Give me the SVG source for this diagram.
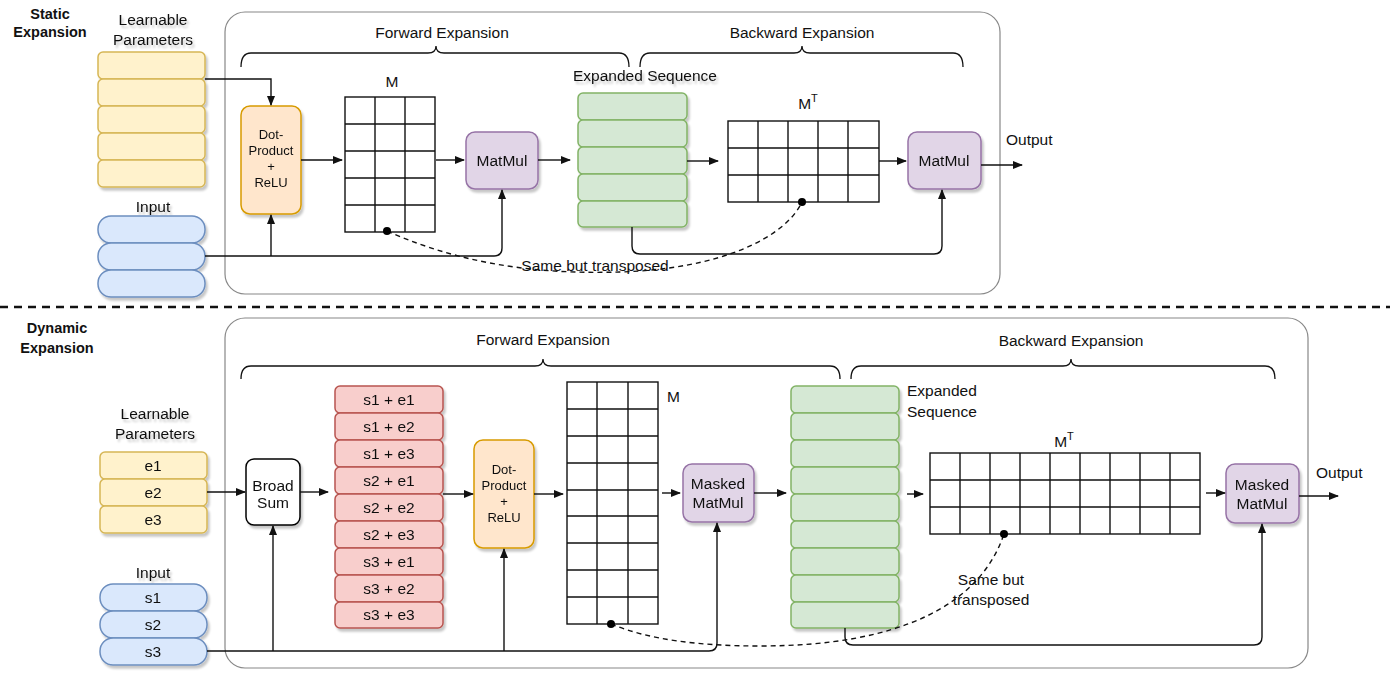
<svg xmlns="http://www.w3.org/2000/svg" width="1390" height="675" viewBox="0 0 1390 675">
<defs>
<style>
text{font-family:"Liberation Sans",Arial,sans-serif;font-size:15.5px;fill:#111;}
.b{font-weight:bold;font-size:14.5px;}
.m{text-anchor:middle;}
.sm{font-size:13px;}
.yel{fill:#fff2cc;stroke:#d6b656;stroke-width:1.5;}
.blu{fill:#dae8fc;stroke:#6c8ebf;stroke-width:1.5;}
.grn{fill:#d5e8d4;stroke:#82b366;stroke-width:1.5;}
.red{fill:#f8cecc;stroke:#b85450;stroke-width:1.5;}
.org{fill:#ffe6cc;stroke:#d79b00;stroke-width:1.5;}
.pur{fill:#e1d5e7;stroke:#9673a6;stroke-width:1.5;}
.wht{fill:#fff;stroke:#000;stroke-width:1.5;}
.grid{fill:#fff;stroke:#111;stroke-width:1.4;}
.cont{fill:none;stroke:#888;stroke-width:1.2;}
.brace{fill:none;stroke:#111;stroke-width:1.3;}
.ln{fill:none;stroke:#111;stroke-width:1.4;}
.arr{fill:none;stroke:#111;stroke-width:1.4;marker-end:url(#ah);}
.dash{fill:none;stroke:#111;stroke-width:1.4;stroke-dasharray:5 4;}
</style>
<marker id="ah" viewBox="0 0 10 10" refX="9" refY="5" markerWidth="10" markerHeight="10" markerUnits="userSpaceOnUse" orient="auto">
<path d="M0,1 L10,5 L0,9 Z" fill="#111"/>
</marker>
<filter id="sh" x="-20%" y="-20%" width="140%" height="140%">
<feDropShadow dx="2" dy="3" stdDeviation="1.2" flood-color="#000" flood-opacity="0.22"/>
</filter>
</defs>
<rect width="1390" height="675" fill="#fff"/>

<!-- ===== STATIC ===== -->
<g id="static-title"><text class="b m" x="50" y="19">Static</text><text class="b m" x="50" y="37">Expansion</text></g>
<g id="static-container"><rect class="cont" x="225" y="12" width="775" height="282" rx="20"/></g>
<g id="static-fwd-brace"><path class="brace" d="M241,67 Q241,53 251,53 H428 Q436,53 436,46 Q436,53 444,53 H619 Q629,53 629,67"/><text class="m" x="442" y="38">Forward Expansion</text></g>
<g id="static-bwd-brace"><path class="brace" d="M640,67 Q640,53 650,53 H794 Q802,53 802,46 Q802,53 810,53 H953 Q963,53 963,67"/><text class="m" x="802" y="38">Backward Expansion</text></g>

<g id="static-params" filter="url(#sh)">
<text class="m" x="153" y="25">Learnable</text><text class="m" x="153" y="45">Parameters</text>
<rect class="yel" x="98" y="52" width="107" height="27" rx="5"/>
<rect class="yel" x="98" y="79" width="107" height="27" rx="5"/>
<rect class="yel" x="98" y="106" width="107" height="27" rx="5"/>
<rect class="yel" x="98" y="133" width="107" height="27" rx="5"/>
<rect class="yel" x="98" y="160" width="107" height="27" rx="5"/>
</g>
<g id="static-input" filter="url(#sh)">
<text class="m" x="153" y="212">Input</text>
<rect class="blu" x="98" y="216" width="107" height="27" rx="13"/>
<rect class="blu" x="98" y="243" width="107" height="27" rx="13"/>
<rect class="blu" x="98" y="270" width="107" height="27" rx="13"/>
</g>
<g id="static-dot" filter="url(#sh)">
<rect class="org" x="241" y="106" width="60" height="108" rx="9"/>
<text class="m sm" x="271" y="139">Dot-</text><text class="m sm" x="271" y="155">Product</text><text class="m sm" x="271" y="171">+</text><text class="m sm" x="271" y="187">ReLU</text>
</g>
<g id="static-M">
<text class="m" x="392" y="87">M</text>
<rect class="grid" x="345" y="97" width="90" height="135"/>
<path class="grid" d="M375,97V232M405,97V232M345,124H435M345,151H435M345,178H435M345,205H435"/>
</g>
<g id="static-matmul1" filter="url(#sh)"><rect class="pur" x="466" y="132" width="72" height="57" rx="9"/><text class="m" x="502" y="166">MatMul</text></g>
<g id="static-expanded" filter="url(#sh)">
<text class="m" x="645" y="81">Expanded Sequence</text>
<rect class="grn" x="578" y="93" width="109" height="27" rx="5"/>
<rect class="grn" x="578" y="120" width="109" height="27" rx="5"/>
<rect class="grn" x="578" y="147" width="109" height="27" rx="5"/>
<rect class="grn" x="578" y="174" width="109" height="27" rx="5"/>
<rect class="grn" x="578" y="201" width="109" height="26" rx="5"/>
</g>
<g id="static-MT">
<text class="m" x="808" y="109">M<tspan font-size="11" dy="-7">T</tspan></text>
<rect class="grid" x="728" y="121" width="151" height="81"/>
<path class="grid" d="M758,121V202M788,121V202M818,121V202M848,121V202M728,148H879M728,175H879"/>
</g>
<g id="static-matmul2" filter="url(#sh)"><rect class="pur" x="908" y="132" width="73" height="57" rx="9"/><text class="m" x="944" y="166">MatMul</text></g>
<g id="static-output"><text x="1006" y="145">Output</text></g>
<g id="static-note"><text class="m" x="595" y="271">Same but transposed</text></g>

<g id="static-connectors">
<path class="arr" d="M205,79H271V105"/>
<path class="arr" d="M205,256H494Q502,256 502,248V190"/>
<path class="arr" d="M271,256V215"/>
<path class="arr" d="M301,160H342"/>
<path class="arr" d="M436,160H464"/>
<path class="arr" d="M538,160H570"/>
<path class="arr" d="M687,161H718"/>
<path class="arr" d="M879,161H906"/>
<path class="arr" d="M981,165H1022"/>
<path class="arr" d="M632,227V246Q632,254 640,254H934Q942,254 942,246V190"/>
<path class="dash" d="M387,231C470,268 550,274 620,272C720,269 785,238 802,202"/>
<circle cx="387" cy="231" r="4" fill="#000"/>
<circle cx="802" cy="202" r="4" fill="#000"/>
</g>

<g id="separator"><line x1="0" y1="307" x2="1390" y2="307" stroke="#111" stroke-width="2.5" stroke-dasharray="8 6"/></g>

<!-- ===== DYNAMIC ===== -->
<g id="dyn-title"><text class="b m" x="57" y="333">Dynamic</text><text class="b m" x="57" y="353">Expansion</text></g>
<g id="dyn-container"><rect class="cont" x="225" y="318" width="1083" height="350" rx="20"/></g>
<g id="dyn-fwd-brace"><path class="brace" d="M241,379 Q241,366 251,366 H535 Q543,366 543,359 Q543,366 551,366 H830 Q840,366 840,379"/><text class="m" x="543" y="345">Forward Expansion</text></g>
<g id="dyn-bwd-brace"><path class="brace" d="M851,379 Q851,366 861,366 H1063 Q1071,366 1071,359 Q1071,366 1079,366 H1265 Q1275,366 1275,379"/><text class="m" x="1071" y="346">Backward Expansion</text></g>

<g id="dyn-params" filter="url(#sh)">
<text class="m" x="155" y="419">Learnable</text><text class="m" x="155" y="439">Parameters</text>
<rect class="yel" x="100" y="452" width="107" height="27" rx="5"/>
<rect class="yel" x="100" y="479" width="107" height="27" rx="5"/>
<rect class="yel" x="100" y="506" width="107" height="27" rx="5"/>
<text class="m" x="153" y="471">e1</text><text class="m" x="153" y="498">e2</text><text class="m" x="153" y="525">e3</text>
</g>
<g id="dyn-input" filter="url(#sh)">
<text class="m" x="153" y="578">Input</text>
<rect class="blu" x="100" y="584" width="107" height="27" rx="13"/>
<rect class="blu" x="100" y="611" width="107" height="27" rx="13"/>
<rect class="blu" x="100" y="638" width="107" height="27" rx="13"/>
<text class="m" x="153" y="603">s1</text><text class="m" x="153" y="630">s2</text><text class="m" x="153" y="657">s3</text>
</g>
<g id="dyn-broadsum" filter="url(#sh)"><rect class="wht" x="246" y="459" width="54" height="66" rx="8"/><text class="m" x="273" y="491">Broad</text><text class="m" x="273" y="508">Sum</text></g>
<g id="dyn-sums" filter="url(#sh)">
<rect class="red" x="335" y="386" width="108" height="27" rx="5"/>
<rect class="red" x="335" y="413" width="108" height="27" rx="5"/>
<rect class="red" x="335" y="440" width="108" height="27" rx="5"/>
<rect class="red" x="335" y="467" width="108" height="27" rx="5"/>
<rect class="red" x="335" y="494" width="108" height="27" rx="5"/>
<rect class="red" x="335" y="521" width="108" height="27" rx="5"/>
<rect class="red" x="335" y="548" width="108" height="27" rx="5"/>
<rect class="red" x="335" y="575" width="108" height="27" rx="5"/>
<rect class="red" x="335" y="602" width="108" height="26" rx="5"/>
<text class="m" x="389" y="405">s1 + e1</text>
<text class="m" x="389" y="432">s1 + e2</text>
<text class="m" x="389" y="459">s1 + e3</text>
<text class="m" x="389" y="486">s2 + e1</text>
<text class="m" x="389" y="513">s2 + e2</text>
<text class="m" x="389" y="540">s2 + e3</text>
<text class="m" x="389" y="567">s3 + e1</text>
<text class="m" x="389" y="594">s3 + e2</text>
<text class="m" x="389" y="620">s3 + e3</text>
</g>
<g id="dyn-dot" filter="url(#sh)">
<rect class="org" x="474" y="440" width="60" height="108" rx="9"/>
<text class="m sm" x="504" y="474">Dot-</text><text class="m sm" x="504" y="490">Product</text><text class="m sm" x="504" y="506">+</text><text class="m sm" x="504" y="522">ReLU</text>
</g>
<g id="dyn-M">
<text x="667" y="402">M</text>
<rect class="grid" x="567" y="382" width="91" height="242"/>
<path class="grid" d="M597,382V624M628,382V624M567,409H658M567,436H658M567,463H658M567,490H658M567,516H658M567,543H658M567,570H658M567,597H658"/>
</g>
<g id="dyn-masked1" filter="url(#sh)"><rect class="pur" x="683" y="464" width="71" height="58" rx="9"/><text class="m" x="718" y="489">Masked</text><text class="m" x="718" y="508">MatMul</text></g>
<g id="dyn-expanded" filter="url(#sh)">
<rect class="grn" x="791" y="386" width="108" height="27" rx="5"/>
<rect class="grn" x="791" y="413" width="108" height="27" rx="5"/>
<rect class="grn" x="791" y="440" width="108" height="27" rx="5"/>
<rect class="grn" x="791" y="467" width="108" height="27" rx="5"/>
<rect class="grn" x="791" y="494" width="108" height="27" rx="5"/>
<rect class="grn" x="791" y="521" width="108" height="27" rx="5"/>
<rect class="grn" x="791" y="548" width="108" height="27" rx="5"/>
<rect class="grn" x="791" y="575" width="108" height="27" rx="5"/>
<rect class="grn" x="791" y="602" width="108" height="26" rx="5"/>
</g>
<g id="dyn-expanded-label"><text x="907" y="396">Expanded</text><text x="907" y="417">Sequence</text></g>
<g id="dyn-MT">
<text class="m" x="1064" y="447">M<tspan font-size="11" dy="-7">T</tspan></text>
<rect class="grid" x="930" y="453" width="270" height="81"/>
<path class="grid" d="M960,453V534M990,453V534M1020,453V534M1050,453V534M1080,453V534M1110,453V534M1140,453V534M1170,453V534M930,480H1200M930,507H1200"/>
</g>
<g id="dyn-masked2" filter="url(#sh)"><rect class="pur" x="1226" y="464" width="73" height="59" rx="9"/><text class="m" x="1262" y="490">Masked</text><text class="m" x="1262" y="509">MatMul</text></g>
<g id="dyn-output"><text x="1316" y="478">Output</text></g>
<g id="dyn-note"><text class="m" x="991" y="585">Same but</text><text class="m" x="991" y="605">transposed</text></g>

<g id="dyn-connectors">
<path class="arr" d="M207,492H245"/>
<path class="arr" d="M300,492H328"/>
<path class="arr" d="M443,494H473"/>
<path class="arr" d="M534,494H563"/>
<path class="arr" d="M662,493H680"/>
<path class="arr" d="M754,493H786"/>
<path class="arr" d="M907,494H923"/>
<path class="arr" d="M1206,493H1225"/>
<path class="arr" d="M1299,496H1338"/>
<path class="arr" d="M207,651H709Q717,651 717,643V523"/>
<path class="arr" d="M273,651V526"/>
<path class="arr" d="M504,651V549"/>
<path class="arr" d="M845,628V637Q845,645 853,645H1254Q1262,645 1262,637V524"/>
<path class="dash" d="M611,624C650,640 700,646 760,646C900,646 980,605 1004,534"/>
<circle cx="611" cy="624" r="4" fill="#000"/>
<circle cx="1004" cy="534" r="4" fill="#000"/>
</g>
</svg>
